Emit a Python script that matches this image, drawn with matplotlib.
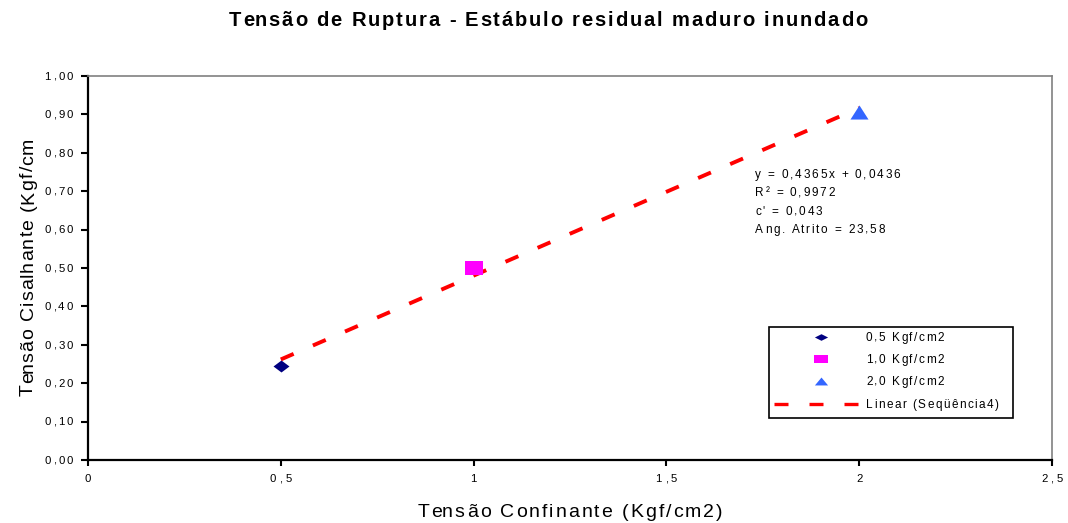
import numpy as np
import matplotlib
matplotlib.use('Agg')
import matplotlib.pyplot as plt
from matplotlib.font_manager import FontProperties
from matplotlib.patches import Rectangle

plt.rcParams['font.family'] = ['Liberation Sans', 'DejaVu Sans']

# confining stress (x) vs shear stress at failure (y)
labels = ['0,5 Kgf/cm2', '1,0 Kgf/cm2', '2,0 Kgf/cm2']
sigma = [0.5, 1.0, 2.0]
tau = [0.245, 0.50, 0.905]
colors = ['#000080', '#FF00FF', '#3366FF']
trend_label = 'Linear (Seqüência4)'

# linear trendline as reported on the chart
slope, intercept = 0.4365, 0.0436
fit_text = ['y = 0,4365x + 0,0436', 'R² = 0,9972', "c' = 0,043", 'Ang. Atrito = 23,58']

xticks = [0, 0.5, 1, 1.5, 2, 2.5]
xticklabels = ['0', '0,5', '1', '1,5', '2', '2,5']
yticks = [0.0, 0.1, 0.2, 0.3, 0.4, 0.5, 0.6, 0.7, 0.8, 0.9, 1.0]
yticklabels = ['0,00', '0,10', '0,20', '0,30', '0,40', '0,50',
               '0,60', '0,70', '0,80', '0,90', '1,00']

title = 'Tensão de Ruptura - Estábulo residual maduro inundado'
xlabel = 'Tensão Confinante (Kgf/cm2)'
ylabel = 'Tensão Cisalhante (Kgf/cm'

# Excel-like (flattened) marker shapes
diamond = [(-1, 0), (0, 0.75), (1, 0), (0, -0.75)]
square = [(-1, -0.78), (1, -0.78), (1, 0.78), (-1, 0.78)]
triangle = [(-1, -0.78), (1, -0.78), (0, 0.78)]
markers = [diamond, square, triangle]
msizes = [11.5, 13, 13]

W, H = 1068, 523
fig = plt.figure(figsize=(W / 100, H / 100), dpi=100)
ax = fig.add_axes([88 / W, (H - 460) / H, 964 / W, 384 / H])

xfit = np.array([sigma[0], sigma[-1]])
ax.plot(xfit, slope * xfit + intercept, color='#FF0000', lw=2.8,
        dashes=(3.6, 5.4), solid_capstyle='butt', zorder=2)
for x, y, m, c, s in zip(sigma, tau, markers, colors, msizes):
    ax.plot([x], [y], marker=m, color=c, ms=s, mew=0, ls='none', zorder=3)

ax.set_xlim(0, 2.5)
ax.set_ylim(0, 1.0)
ax.set_xticks(xticks)
ax.set_yticks(yticks)
ax.set_xticklabels([])
ax.set_yticklabels([])
ax.tick_params(axis='y', length=5, width=1.5, direction='out')
ax.tick_params(axis='x', length=4, width=1.5, direction='out')
for side in ['left', 'bottom']:
    ax.spines[side].set_linewidth(1.6)
    ax.spines[side].set_color('black')
for side in ['top', 'right']:
    ax.spines[side].set_linewidth(1.2)
    ax.spines[side].set_color('#808080')

# overlay in pixel units (origin top-left) for the letter-spaced texts and the legend
ov = fig.add_axes([0, 0, 1, 1], zorder=5)
ov.set_xlim(0, W)
ov.set_ylim(H, 0)
ov.axis('off')
ov.patch.set_visible(False)

renderer = fig.canvas.get_renderer()


def tracked(x, y, s, size, track, ha='left', vertical=False, weight='normal'):
    fp = FontProperties(family='Liberation Sans', size=size, weight=weight)
    wm = renderer.get_text_width_height_descent('M', fp, ismath=False)[0]
    offs = [renderer.get_text_width_height_descent(s[:i] + 'M', fp, ismath=False)[0] - wm
            for i in range(len(s))]
    total = renderer.get_text_width_height_descent(s + 'M', fp, ismath=False)[0] - wm
    total += track * (len(s) - 1)
    start = {'left': 0, 'center': total / 2, 'right': total}[ha]
    for i, ch in enumerate(s):
        d = offs[i] + i * track - start
        if vertical:
            ov.text(x, y - d, ch, fontproperties=fp, rotation=90, rotation_mode='anchor',
                    ha='left', va='baseline')
        else:
            ov.text(x + d, y, ch, fontproperties=fp, ha='left', va='baseline')


tracked(548, 26, title, 14.5, 1.85, ha='center', weight='bold')
tracked(570, 517, xlabel, 14, 2.0, ha='center')
tracked(33, 267, ylabel, 14, 1.0, ha='center', vertical=True)

# tick labels
for v, t in zip(yticks, yticklabels):
    px = ax.transData.transform((0, v))[1]
    tracked(73, H - px + 3.8, t, 8.2, 2.2, ha='right')
for v, t in zip(xticks, xticklabels):
    px = ax.transData.transform((v, 0))[0]
    tracked(px, 482, t, 8.2, 3.0, ha='center')

# trendline equation block
for i, t in enumerate(fit_text):
    tracked(755, 178 + i * 18.3, t, 8.5, 1.8)

# legend
ov.add_patch(Rectangle((769, 327), 244, 91, fill=False, ec='black', lw=1.2))
leg_rows = [337, 359, 381, 404]
leg_markers = [[(-1, 0), (0, 0.5), (1, 0), (0, -0.5)],
               [(-1, -0.55), (1, -0.55), (1, 0.55), (-1, 0.55)],
               [(-1, -0.6), (1, -0.6), (0, 0.6)]]
for ry, m, c, t in zip(leg_rows, leg_markers, colors, labels):
    ov.plot([821], [ry], marker=m, color=c, ms=9.5, mew=0, ls='none')
    tracked(866, ry + 4, t, 8.5, 1.5)
ov.plot([774, 858], [leg_rows[3], leg_rows[3]], color='#FF0000', lw=2.4,
        dashes=(4.2, 6.3), solid_capstyle='butt')
tracked(866, leg_rows[3] + 4, trend_label, 8.5, 1.5)

fig.savefig('out.png', dpi=100)
